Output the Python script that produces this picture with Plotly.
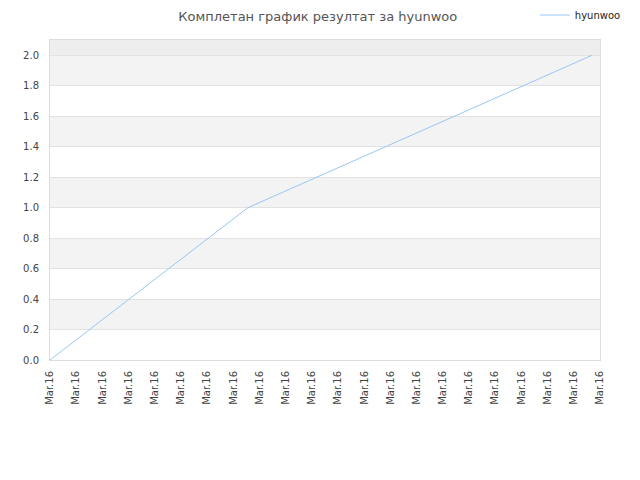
import plotly.graph_objects as go

# data
x_vals = [0, 7.56, 20.7]
y_vals = [0.0, 1.0, 2.0]
tick_pos = list(range(22))
tick_text = ["Mar.16"] * 22
y_ticks = [0, 0.2, 0.4, 0.6, 0.8, 1.0, 1.2, 1.4, 1.6, 1.8, 2.0]
series_name = "hyunwoo"

fig = go.Figure()
fig.add_trace(go.Scatter(x=x_vals, y=y_vals, mode="lines", name=series_name,
                         line=dict(color="#99c6f4", width=1)))

# alternating horizontal bands
shapes = []
bands = [(0.2, 0.4), (0.6, 0.8), (1.0, 1.2), (1.4, 1.6), (1.8, 2.0)]
for lo, hi in bands:
    shapes.append(dict(type="rect", xref="paper", yref="y", x0=0, x1=1, y0=lo, y1=hi,
                       fillcolor="#f3f3f3", line=dict(width=0), layer="below"))
shapes.append(dict(type="rect", xref="paper", yref="y", x0=0, x1=1, y0=2.0, y1=2.1,
                   fillcolor="#eeeeee", line=dict(width=0), layer="below"))

# page has an 8px body margin, so margins are shifted to compensate
fig.update_layout(
    width=640, height=480,
    margin=dict(l=42, r=48, t=32, b=128, autoexpand=False),
    paper_bgcolor="white", plot_bgcolor="white",
    font=dict(family="DejaVu Sans", size=10, color="#444"),
    title=dict(text="Комплетан график резултат за hyunwoo", xref="container", x=0.484,
               xanchor="center", y=0.992, yanchor="top",
               font=dict(size=13, color="#555")),
    showlegend=True,
    legend=dict(x=1.047, xanchor="right", y=1.078, yanchor="middle", bgcolor="rgba(0,0,0,0)",
                font=dict(size=10, color="#222")),
    shapes=shapes,
)
fig.update_xaxes(range=[0, 21], tickvals=tick_pos, ticktext=tick_text, tickangle=-90,
                 showgrid=False, zeroline=False, showline=True, linecolor="#dddddd",
                 mirror=True, ticks="", ticklabelstandoff=6, automargin=False,
                 tickfont=dict(size=10, color="#444"))
fig.update_yaxes(range=[0, 2.1], tickvals=y_ticks, tickformat=".1f", showgrid=True,
                 gridcolor="#e2e2e2", zeroline=False, showline=True, linecolor="#dddddd",
                 mirror=True, ticks="", ticklabelstandoff=8, automargin=False,
                 tickfont=dict(size=10, color="#444"))

fig.write_html("out.html")
